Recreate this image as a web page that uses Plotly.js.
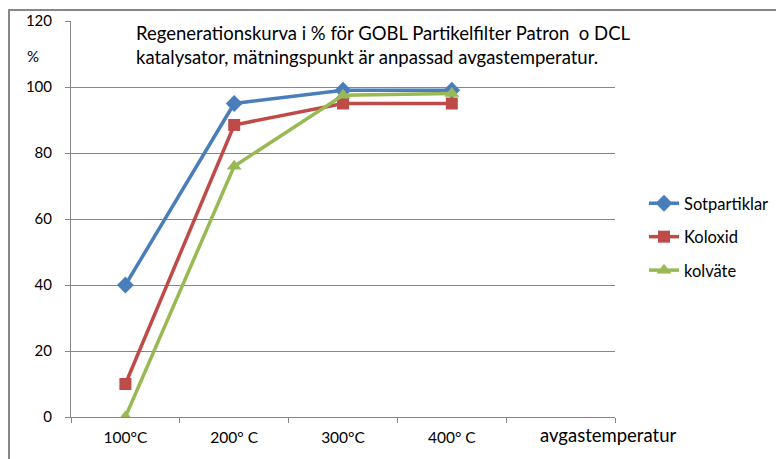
<!DOCTYPE html>
<html><head><meta charset="utf-8">
<script src="https://cdn.plot.ly/plotly-3.0.1.min.js"></script>
<style>html,body{margin:0;padding:0;background:#fff}#c{width:776px;height:459px}</style>
</head><body><div id="c"></div>
<script>
const categories = ['100°C', '200° C', '300°C', '400° C'];
const sotpartiklar = [40, 95, 99, 99];
const koloxid = [10, 88.5, 95, 95];
const kolvate = [0, 76, 97.5, 98];
const yTicks = [0, 20, 40, 60, 80, 100, 120];
const titleText = 'Regenerationskurva i % för GOBL Partikelfilter Patron  o DCL<br>katalysator, mätningspunkt är anpassad avgastemperatur.';
const xTitle = 'avgastemperatur';
const yTitle = '%';

const xi = categories.map((c, i) => i);
const font = 'Lato, "Open Sans", sans-serif';

function tr(name, y, color, symbol, size, grp) {
  return {
    x: xi, y: y, name: name, type: 'scatter', mode: 'lines+markers',
    legendgroup: grp,
    line: {color: color, width: 3.5},
    marker: {symbol: symbol, size: size, color: color}
  };
}
const data = [
  tr('Sotpartiklar', sotpartiklar, '#4A7EBB', 'diamond', 13, 'a'),
  tr('Koloxid', koloxid, '#BE4B48', 'square', 12, 'b'),
  tr('kolväte', kolvate, '#98B954', 'triangle-up', 13, 'c')
];

const px = v => (v - 71) / 544;
const py = v => (417 - v) / 396;

const layout = {
  width: 776, height: 459,
  margin: {l: 71, r: 161, t: 21, b: 42, autoexpand: false},
  paper_bgcolor: '#fff', plot_bgcolor: '#fff',
  font: {family: font, size: 14, color: '#000'},
  showlegend: true,
  legend: {x: px(644), y: py(186), xanchor: 'left', yanchor: 'top',
           font: {family: font, size: 16.5, color: '#000'},
           traceorder: 'grouped', tracegroupgap: 9, bgcolor: 'rgba(0,0,0,0)'},
  xaxis: {
    range: [-0.5, 4.5], tickmode: 'array', tickvals: xi, ticktext: categories,
    ticks: '', showgrid: false, zeroline: false, ticklabelstandoff: 6, automargin: false,
    showline: true, linecolor: '#868686', linewidth: 1,
    tickfont: {family: font, size: 15.5, color: '#000'},
    minor: {tickmode: 'array', tickvals: [-0.5, 0.5, 1.5, 2.5, 3.5, 4.5], ticks: 'outside', ticklen: 5, tickcolor: '#868686', tickwidth: 1, showgrid: false},
    fixedrange: true
  },
  yaxis: {
    range: [0, 120], tickmode: 'array', tickvals: yTicks, automargin: false,
    ticks: 'outside', ticklen: 5, tickcolor: '#868686', ticklabelstandoff: 10,
    showgrid: true, gridcolor: '#868686', gridwidth: 1,
    zeroline: false, showline: true, linecolor: '#868686', linewidth: 1,
    tickfont: {family: font, size: 15, color: '#000'},
    fixedrange: true
  },
  annotations: [
    {text: titleText, xref: 'paper', yref: 'paper', x: px(134), y: py(20), xanchor: 'left', yanchor: 'top',
     align: 'left', showarrow: false, font: {family: font, size: 18.5, color: '#000'}},
    {text: yTitle, xref: 'paper', yref: 'paper', x: px(33), y: py(56), xanchor: 'center', yanchor: 'middle',
     showarrow: false, font: {family: font, size: 15, color: '#000'}},
    {text: xTitle, xref: 'paper', yref: 'paper', x: px(608), y: py(435), xanchor: 'center', yanchor: 'middle',
     showarrow: false, font: {family: font, size: 18.5, color: '#000'}}
  ],
  shapes: [
    {type: 'line', xref: 'paper', yref: 'paper', x0: px(8), x1: px(780), y0: py(10), y1: py(10), line: {color: '#868686', width: 2}},
    {type: 'line', xref: 'paper', yref: 'paper', x0: px(9), x1: px(9), y0: py(10), y1: py(462), line: {color: '#868686', width: 2}}
  ]
};
Plotly.newPlot('c', data, layout, {staticPlot: true});
</script></body></html>
